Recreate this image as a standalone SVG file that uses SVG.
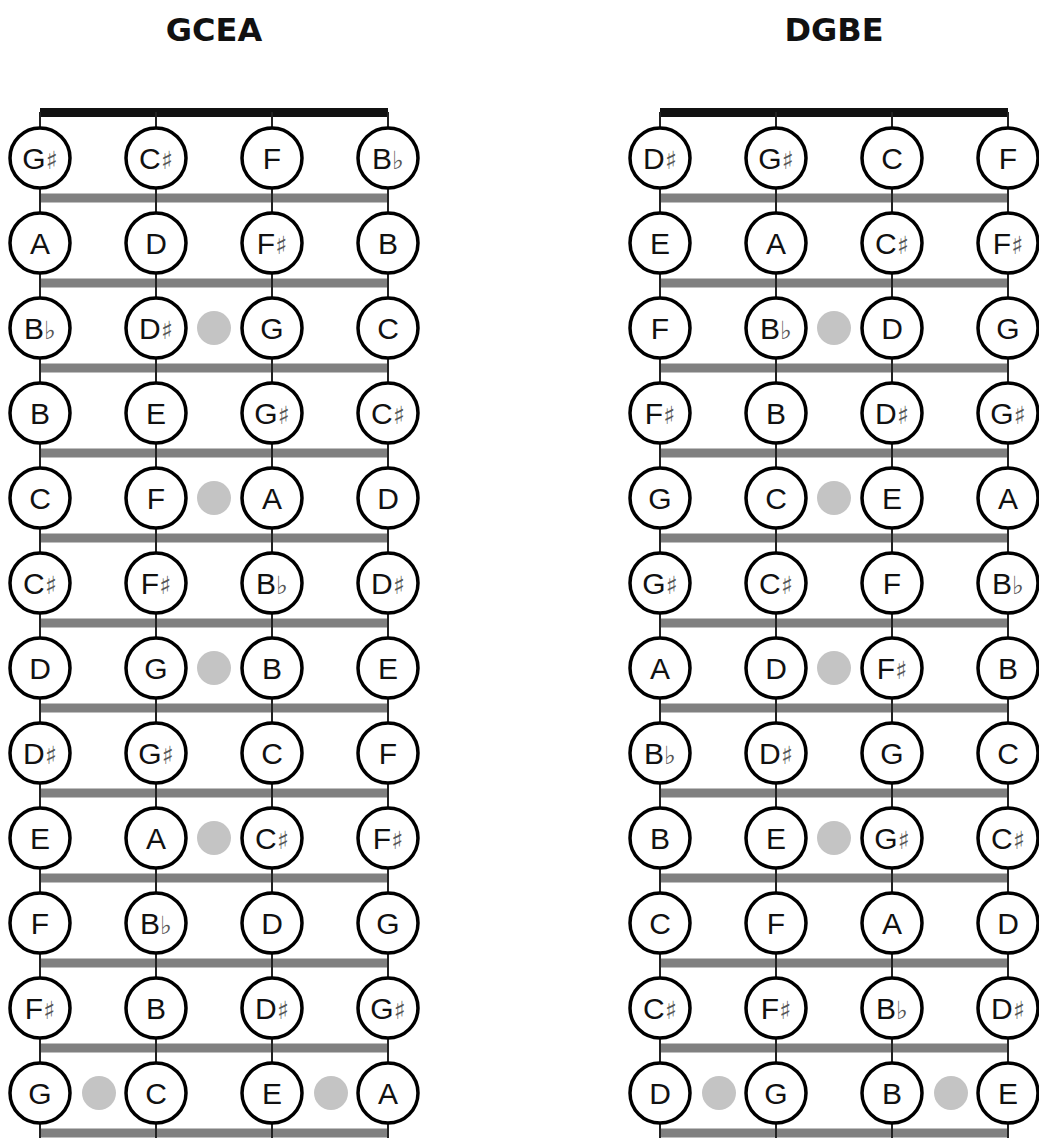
<svg xmlns="http://www.w3.org/2000/svg" width="1039" height="1138" viewBox="0 0 1039 1138">
<style>
.title{font-family:"DejaVu Sans",sans-serif;font-weight:bold;font-size:32px;fill:#111;text-anchor:middle}
.nut{fill:#111}
.fret{stroke:#808080;stroke-width:9}
.str{stroke:#222;stroke-width:2}
.dot{fill:#c4c4c4}
.n circle{fill:#fff;stroke:#000;stroke-width:3.5}
.n text{font-family:"Liberation Sans",Arial,sans-serif;font-size:30px;fill:#111;text-anchor:middle}
.acc{font-family:"DejaVu Sans",sans-serif;font-size:25px;font-weight:bold;fill:#555}
</style>
<rect width="1039" height="1138" fill="#fff"/>
<text class="title" x="214" y="41">GCEA</text>
<text class="title" x="834" y="41">DGBE</text>
<g id="fretboard">
<rect class="nut" x="40" y="108" width="348" height="9"/>
<rect class="nut" x="660" y="108" width="348" height="9"/>
<g id="frets">
<path class="fret" d="M40 198H388M40 283H388M40 368H388M40 453H388M40 538H388M40 623H388M40 708H388M40 793H388M40 878H388M40 963H388M40 1048H388M40 1133H388"/>
<path class="fret" d="M660 198H1008M660 283H1008M660 368H1008M660 453H1008M660 538H1008M660 623H1008M660 708H1008M660 793H1008M660 878H1008M660 963H1008M660 1048H1008M660 1133H1008"/>
</g>
<g id="strings">
<path class="str" d="M40 112V1138M156 112V1138M272 112V1138M388 112V1138"/>
<path class="str" d="M660 112V1138M776 112V1138M892 112V1138M1008 112V1138"/>
</g>
<g id="dots">
<circle class="dot" cx="214" cy="328" r="17"/>
<circle class="dot" cx="214" cy="498" r="17"/>
<circle class="dot" cx="214" cy="668" r="17"/>
<circle class="dot" cx="214" cy="838" r="17"/>
<circle class="dot" cx="99" cy="1093" r="17"/>
<circle class="dot" cx="331" cy="1093" r="17"/>
<circle class="dot" cx="834" cy="328" r="17"/>
<circle class="dot" cx="834" cy="498" r="17"/>
<circle class="dot" cx="834" cy="668" r="17"/>
<circle class="dot" cx="834" cy="838" r="17"/>
<circle class="dot" cx="719" cy="1093" r="17"/>
<circle class="dot" cx="951" cy="1093" r="17"/>
</g>
</g>
<g id="gcea">
<g id="g0-0" class="n" transform="translate(40,158)"><circle r="30"/><text y="11">G<tspan class="acc">♯</tspan></text></g>
<g id="g0-1" class="n" transform="translate(156,158)"><circle r="30"/><text y="11">C<tspan class="acc">♯</tspan></text></g>
<g id="g0-2" class="n" transform="translate(272,158)"><circle r="30"/><text y="11">F</text></g>
<g id="g0-3" class="n" transform="translate(388,158)"><circle r="30"/><text y="11">B<tspan class="acc">♭</tspan></text></g>
<g id="g1-0" class="n" transform="translate(40,243)"><circle r="30"/><text y="11">A</text></g>
<g id="g1-1" class="n" transform="translate(156,243)"><circle r="30"/><text y="11">D</text></g>
<g id="g1-2" class="n" transform="translate(272,243)"><circle r="30"/><text y="11">F<tspan class="acc">♯</tspan></text></g>
<g id="g1-3" class="n" transform="translate(388,243)"><circle r="30"/><text y="11">B</text></g>
<g id="g2-0" class="n" transform="translate(40,328)"><circle r="30"/><text y="11">B<tspan class="acc">♭</tspan></text></g>
<g id="g2-1" class="n" transform="translate(156,328)"><circle r="30"/><text y="11">D<tspan class="acc">♯</tspan></text></g>
<g id="g2-2" class="n" transform="translate(272,328)"><circle r="30"/><text y="11">G</text></g>
<g id="g2-3" class="n" transform="translate(388,328)"><circle r="30"/><text y="11">C</text></g>
<g id="g3-0" class="n" transform="translate(40,413)"><circle r="30"/><text y="11">B</text></g>
<g id="g3-1" class="n" transform="translate(156,413)"><circle r="30"/><text y="11">E</text></g>
<g id="g3-2" class="n" transform="translate(272,413)"><circle r="30"/><text y="11">G<tspan class="acc">♯</tspan></text></g>
<g id="g3-3" class="n" transform="translate(388,413)"><circle r="30"/><text y="11">C<tspan class="acc">♯</tspan></text></g>
<g id="g4-0" class="n" transform="translate(40,498)"><circle r="30"/><text y="11">C</text></g>
<g id="g4-1" class="n" transform="translate(156,498)"><circle r="30"/><text y="11">F</text></g>
<g id="g4-2" class="n" transform="translate(272,498)"><circle r="30"/><text y="11">A</text></g>
<g id="g4-3" class="n" transform="translate(388,498)"><circle r="30"/><text y="11">D</text></g>
<g id="g5-0" class="n" transform="translate(40,583)"><circle r="30"/><text y="11">C<tspan class="acc">♯</tspan></text></g>
<g id="g5-1" class="n" transform="translate(156,583)"><circle r="30"/><text y="11">F<tspan class="acc">♯</tspan></text></g>
<g id="g5-2" class="n" transform="translate(272,583)"><circle r="30"/><text y="11">B<tspan class="acc">♭</tspan></text></g>
<g id="g5-3" class="n" transform="translate(388,583)"><circle r="30"/><text y="11">D<tspan class="acc">♯</tspan></text></g>
<g id="g6-0" class="n" transform="translate(40,668)"><circle r="30"/><text y="11">D</text></g>
<g id="g6-1" class="n" transform="translate(156,668)"><circle r="30"/><text y="11">G</text></g>
<g id="g6-2" class="n" transform="translate(272,668)"><circle r="30"/><text y="11">B</text></g>
<g id="g6-3" class="n" transform="translate(388,668)"><circle r="30"/><text y="11">E</text></g>
<g id="g7-0" class="n" transform="translate(40,753)"><circle r="30"/><text y="11">D<tspan class="acc">♯</tspan></text></g>
<g id="g7-1" class="n" transform="translate(156,753)"><circle r="30"/><text y="11">G<tspan class="acc">♯</tspan></text></g>
<g id="g7-2" class="n" transform="translate(272,753)"><circle r="30"/><text y="11">C</text></g>
<g id="g7-3" class="n" transform="translate(388,753)"><circle r="30"/><text y="11">F</text></g>
<g id="g8-0" class="n" transform="translate(40,838)"><circle r="30"/><text y="11">E</text></g>
<g id="g8-1" class="n" transform="translate(156,838)"><circle r="30"/><text y="11">A</text></g>
<g id="g8-2" class="n" transform="translate(272,838)"><circle r="30"/><text y="11">C<tspan class="acc">♯</tspan></text></g>
<g id="g8-3" class="n" transform="translate(388,838)"><circle r="30"/><text y="11">F<tspan class="acc">♯</tspan></text></g>
<g id="g9-0" class="n" transform="translate(40,923)"><circle r="30"/><text y="11">F</text></g>
<g id="g9-1" class="n" transform="translate(156,923)"><circle r="30"/><text y="11">B<tspan class="acc">♭</tspan></text></g>
<g id="g9-2" class="n" transform="translate(272,923)"><circle r="30"/><text y="11">D</text></g>
<g id="g9-3" class="n" transform="translate(388,923)"><circle r="30"/><text y="11">G</text></g>
<g id="g10-0" class="n" transform="translate(40,1008)"><circle r="30"/><text y="11">F<tspan class="acc">♯</tspan></text></g>
<g id="g10-1" class="n" transform="translate(156,1008)"><circle r="30"/><text y="11">B</text></g>
<g id="g10-2" class="n" transform="translate(272,1008)"><circle r="30"/><text y="11">D<tspan class="acc">♯</tspan></text></g>
<g id="g10-3" class="n" transform="translate(388,1008)"><circle r="30"/><text y="11">G<tspan class="acc">♯</tspan></text></g>
<g id="g11-0" class="n" transform="translate(40,1093)"><circle r="30"/><text y="11">G</text></g>
<g id="g11-1" class="n" transform="translate(156,1093)"><circle r="30"/><text y="11">C</text></g>
<g id="g11-2" class="n" transform="translate(272,1093)"><circle r="30"/><text y="11">E</text></g>
<g id="g11-3" class="n" transform="translate(388,1093)"><circle r="30"/><text y="11">A</text></g>
</g>
<g id="dgbe">
<g id="d0-0" class="n" transform="translate(660,158)"><circle r="30"/><text y="11">D<tspan class="acc">♯</tspan></text></g>
<g id="d0-1" class="n" transform="translate(776,158)"><circle r="30"/><text y="11">G<tspan class="acc">♯</tspan></text></g>
<g id="d0-2" class="n" transform="translate(892,158)"><circle r="30"/><text y="11">C</text></g>
<g id="d0-3" class="n" transform="translate(1008,158)"><circle r="30"/><text y="11">F</text></g>
<g id="d1-0" class="n" transform="translate(660,243)"><circle r="30"/><text y="11">E</text></g>
<g id="d1-1" class="n" transform="translate(776,243)"><circle r="30"/><text y="11">A</text></g>
<g id="d1-2" class="n" transform="translate(892,243)"><circle r="30"/><text y="11">C<tspan class="acc">♯</tspan></text></g>
<g id="d1-3" class="n" transform="translate(1008,243)"><circle r="30"/><text y="11">F<tspan class="acc">♯</tspan></text></g>
<g id="d2-0" class="n" transform="translate(660,328)"><circle r="30"/><text y="11">F</text></g>
<g id="d2-1" class="n" transform="translate(776,328)"><circle r="30"/><text y="11">B<tspan class="acc">♭</tspan></text></g>
<g id="d2-2" class="n" transform="translate(892,328)"><circle r="30"/><text y="11">D</text></g>
<g id="d2-3" class="n" transform="translate(1008,328)"><circle r="30"/><text y="11">G</text></g>
<g id="d3-0" class="n" transform="translate(660,413)"><circle r="30"/><text y="11">F<tspan class="acc">♯</tspan></text></g>
<g id="d3-1" class="n" transform="translate(776,413)"><circle r="30"/><text y="11">B</text></g>
<g id="d3-2" class="n" transform="translate(892,413)"><circle r="30"/><text y="11">D<tspan class="acc">♯</tspan></text></g>
<g id="d3-3" class="n" transform="translate(1008,413)"><circle r="30"/><text y="11">G<tspan class="acc">♯</tspan></text></g>
<g id="d4-0" class="n" transform="translate(660,498)"><circle r="30"/><text y="11">G</text></g>
<g id="d4-1" class="n" transform="translate(776,498)"><circle r="30"/><text y="11">C</text></g>
<g id="d4-2" class="n" transform="translate(892,498)"><circle r="30"/><text y="11">E</text></g>
<g id="d4-3" class="n" transform="translate(1008,498)"><circle r="30"/><text y="11">A</text></g>
<g id="d5-0" class="n" transform="translate(660,583)"><circle r="30"/><text y="11">G<tspan class="acc">♯</tspan></text></g>
<g id="d5-1" class="n" transform="translate(776,583)"><circle r="30"/><text y="11">C<tspan class="acc">♯</tspan></text></g>
<g id="d5-2" class="n" transform="translate(892,583)"><circle r="30"/><text y="11">F</text></g>
<g id="d5-3" class="n" transform="translate(1008,583)"><circle r="30"/><text y="11">B<tspan class="acc">♭</tspan></text></g>
<g id="d6-0" class="n" transform="translate(660,668)"><circle r="30"/><text y="11">A</text></g>
<g id="d6-1" class="n" transform="translate(776,668)"><circle r="30"/><text y="11">D</text></g>
<g id="d6-2" class="n" transform="translate(892,668)"><circle r="30"/><text y="11">F<tspan class="acc">♯</tspan></text></g>
<g id="d6-3" class="n" transform="translate(1008,668)"><circle r="30"/><text y="11">B</text></g>
<g id="d7-0" class="n" transform="translate(660,753)"><circle r="30"/><text y="11">B<tspan class="acc">♭</tspan></text></g>
<g id="d7-1" class="n" transform="translate(776,753)"><circle r="30"/><text y="11">D<tspan class="acc">♯</tspan></text></g>
<g id="d7-2" class="n" transform="translate(892,753)"><circle r="30"/><text y="11">G</text></g>
<g id="d7-3" class="n" transform="translate(1008,753)"><circle r="30"/><text y="11">C</text></g>
<g id="d8-0" class="n" transform="translate(660,838)"><circle r="30"/><text y="11">B</text></g>
<g id="d8-1" class="n" transform="translate(776,838)"><circle r="30"/><text y="11">E</text></g>
<g id="d8-2" class="n" transform="translate(892,838)"><circle r="30"/><text y="11">G<tspan class="acc">♯</tspan></text></g>
<g id="d8-3" class="n" transform="translate(1008,838)"><circle r="30"/><text y="11">C<tspan class="acc">♯</tspan></text></g>
<g id="d9-0" class="n" transform="translate(660,923)"><circle r="30"/><text y="11">C</text></g>
<g id="d9-1" class="n" transform="translate(776,923)"><circle r="30"/><text y="11">F</text></g>
<g id="d9-2" class="n" transform="translate(892,923)"><circle r="30"/><text y="11">A</text></g>
<g id="d9-3" class="n" transform="translate(1008,923)"><circle r="30"/><text y="11">D</text></g>
<g id="d10-0" class="n" transform="translate(660,1008)"><circle r="30"/><text y="11">C<tspan class="acc">♯</tspan></text></g>
<g id="d10-1" class="n" transform="translate(776,1008)"><circle r="30"/><text y="11">F<tspan class="acc">♯</tspan></text></g>
<g id="d10-2" class="n" transform="translate(892,1008)"><circle r="30"/><text y="11">B<tspan class="acc">♭</tspan></text></g>
<g id="d10-3" class="n" transform="translate(1008,1008)"><circle r="30"/><text y="11">D<tspan class="acc">♯</tspan></text></g>
<g id="d11-0" class="n" transform="translate(660,1093)"><circle r="30"/><text y="11">D</text></g>
<g id="d11-1" class="n" transform="translate(776,1093)"><circle r="30"/><text y="11">G</text></g>
<g id="d11-2" class="n" transform="translate(892,1093)"><circle r="30"/><text y="11">B</text></g>
<g id="d11-3" class="n" transform="translate(1008,1093)"><circle r="30"/><text y="11">E</text></g>
</g>
</svg>
